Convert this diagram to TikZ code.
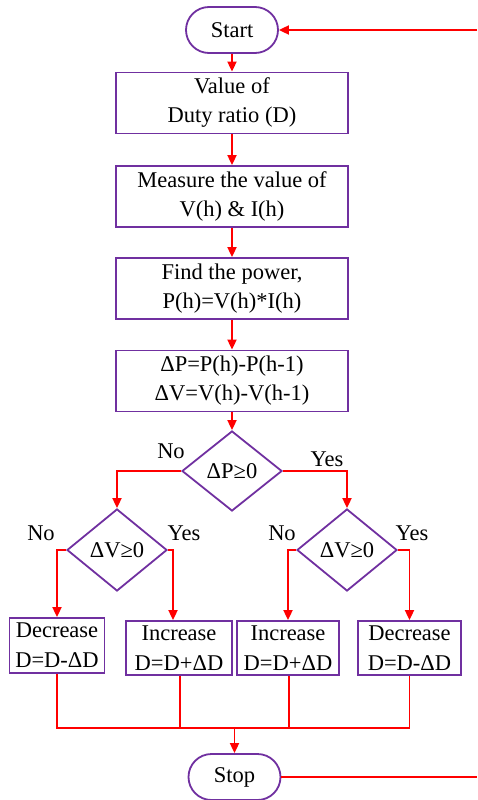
\documentclass[tikz,border=0pt]{standalone}
\usepackage{fontspec}
\setmainfont{Liberation Serif}
\newfontfamily\tnrfont{Liberation Serif}
\usetikzlibrary{shapes.geometric,arrows.meta,calc}
\definecolor{boxpurple}{RGB}{112,48,160}
\definecolor{linered}{RGB}{255,0,0}
\begin{document}
\begin{tikzpicture}[x=1pt,y=-1pt,
  every node/.style={font=\tnrfont\fontsize{22.5}{29}\selectfont, align=center, inner sep=0pt},
  procbox/.style={draw=boxpurple, line width=1.8pt, rectangle, minimum width=#1, minimum height=61},
  procbox/.default=232,
  smallbox/.style={draw=boxpurple, line width=1.8pt, rectangle, minimum height=55, minimum width=#1, font=\tnrfont\fontsize{22.5}{30}\selectfont},
  term/.style={draw=boxpurple, line width=1.8pt, rectangle, rounded corners=23pt, minimum width=92, minimum height=46},
  decide/.style={draw=boxpurple, line width=1.8pt, diamond, minimum width=100, minimum height=80},
  conn/.style={draw=linered, line width=1.8pt},
  arr/.style={conn, -{Triangle[length=10pt,width=9pt]}},
  lbl/.style={font=\tnrfont\fontsize{22.5}{26}\selectfont}
]
\useasboundingbox (0,0) rectangle (477,800);

\node[term] (start) at (232,30) {Start};
\node[procbox] (b1) at (232,103) {Value of\\Duty ratio (D)};
\node[procbox] (b2) at (232,196.5) {Measure the value of\\V(h) \& I(h)};
\node[procbox] (b3) at (232,288.5) {Find the power,\\P(h)=V(h)*I(h)};
\node[procbox] (b4) at (232,381) {ΔP=P(h)-P(h-1)\\ΔV=V(h)-V(h-1)};
\node[decide] (d1) at (232,471) {ΔP≥0};
\node[decide, minimum height=82] (d2l) at (117,550) {ΔV≥0};
\node[decide, minimum height=82] (d2r) at (347,550) {ΔV≥0};

\node[smallbox=95] (ba) at (57,645.5) {Decrease\\D=D-ΔD};
\node[smallbox=106, minimum height=54] (bb) at (179,648) {Increase\\D=D+ΔD};
\node[smallbox=102, minimum height=54] (bc) at (288,648) {Increase\\D=D+ΔD};
\node[smallbox=103, minimum height=54] (bd) at (409.5,648) {Decrease\\D=D-ΔD};

\node[term] (stop) at (234.5,777) {Stop};

\node[lbl] (no1) at (171,451) {No};
\node[lbl] (yes1) at (327,459) {Yes};
\node[lbl] (no2) at (41,533) {No};
\node[lbl] (yes2) at (184,533) {Yes};
\node[lbl] (no3) at (282,533) {No};
\node[lbl] (yes3) at (412,533) {Yes};

\coordinate (rin) at (477,30);
\coordinate (rout) at (477,777);
\coordinate (bus) at (234.5,728);

\draw[arr] (rin) -- (start.east);
\draw[arr] (start.south) -- (b1.north);
\draw[arr] (b1.south) -- (b2.north);
\draw[arr] (b2.south) -- (b3.north);
\draw[arr] (b3.south) -- (b4.north);
\draw[arr] (b4.south) -- (d1.north);
\draw[arr] (d1.west) -| (d2l.north);
\draw[arr] (d1.east) -| (d2r.north);
\draw[arr] (d2l.west) -| (ba.north);
\draw[arr] (d2l.east) -| ([xshift=-6pt]bb.north);
\draw[arr] (d2r.west) -| (bc.north);
\draw[arr] (d2r.east) -| (bd.north);
\draw[conn] (ba.south) |- (bus);
\draw[conn] (bd.south) |- (bus);
\draw[conn] ([xshift=1pt]bb.south) -- ([xshift=1pt]bb.south |- bus);
\draw[conn] ([xshift=1pt]bc.south) -- ([xshift=1pt]bc.south |- bus);
\draw[arr] (bus) -- (stop.north);
\draw[conn] (stop.east) -- (rout);
\end{tikzpicture}
\end{document}
